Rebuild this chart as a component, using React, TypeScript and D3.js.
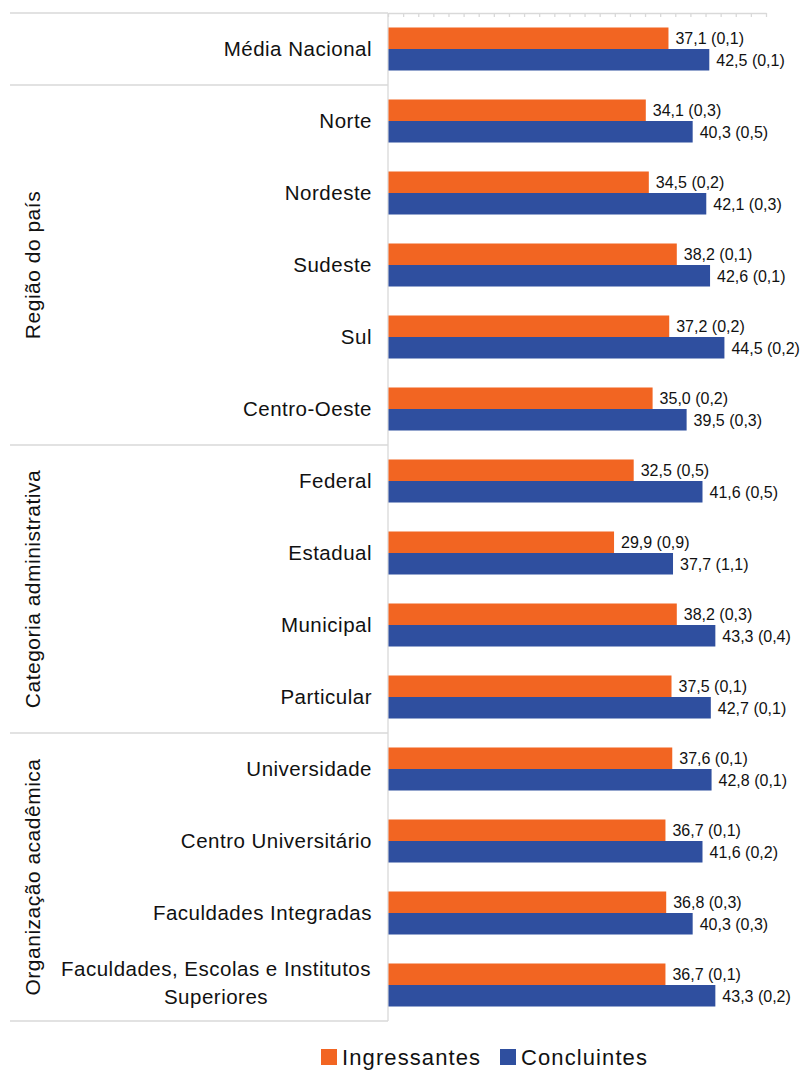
import { useEffect, useRef } from 'react';
import * as d3 from 'd3';

const categories = [
  'Média Nacional',
  'Norte',
  'Nordeste',
  'Sudeste',
  'Sul',
  'Centro-Oeste',
  'Federal',
  'Estadual',
  'Municipal',
  'Particular',
  'Universidade',
  'Centro Universitário',
  'Faculdades Integradas',
  'Faculdades, Escolas e Institutos|Superiores',
];

const ingressantes = [37.1, 34.1, 34.5, 38.2, 37.2, 35.0, 32.5, 29.9, 38.2, 37.5, 37.6, 36.7, 36.8, 36.7];
const concluintes = [42.5, 40.3, 42.1, 42.6, 44.5, 39.5, 41.6, 37.7, 43.3, 42.7, 42.8, 41.6, 40.3, 43.3];
const ingressantesErr = ['0,1', '0,3', '0,2', '0,1', '0,2', '0,2', '0,5', '0,9', '0,3', '0,1', '0,1', '0,1', '0,3', '0,1'];
const concluintesErr = ['0,1', '0,5', '0,3', '0,1', '0,2', '0,3', '0,5', '1,1', '0,4', '0,1', '0,1', '0,2', '0,3', '0,2'];

// groups: [label, first category index, last category index]
const groups: [string, number, number][] = [
  ['Região do país', 1, 5],
  ['Categoria administrativa', 6, 9],
  ['Organização acadêmica', 10, 13],
];

const seriesNames = ['Ingressantes', 'Concluintes'];
const colors = ['#F26522', '#2F4F9F'];

const fmt = (v: number) => v.toFixed(1).replace('.', ',');

export default function App() {
  const svgRef = useRef<SVGSVGElement>(null);

  useEffect(() => {
    if (!svgRef.current) return;
    const width = 804;
    const height = 1072;
    const font = '"Liberation Sans", Arial, sans-serif';
    const textColor = '#111';
    const gridColor = '#d9d9d9';

    const svg = d3.select(svgRef.current).attr('width', width).attr('height', height);
    svg.selectAll('*').remove();

    const x = d3.scaleLinear().domain([0, 50]).range([388, 766]);
    const y = d3.scaleBand<string>().domain(categories).range([13, 1021]).padding(0);
    const ySub = d3.scaleBand<string>()
      .domain(seriesNames)
      .range([0, y.bandwidth()])
      .paddingInner(0)
      .paddingOuter(0.674);

    // Group boundary lines on the category side
    const boundaries = [0, 1, 6, 10].map(i => y(categories[i])!).concat([y.range()[1]]);
    svg.append('g')
      .selectAll('line')
      .data(boundaries)
      .join('line')
      .attr('x1', 10)
      .attr('x2', x(0))
      .attr('y1', d => d)
      .attr('y2', d => d)
      .attr('stroke', gridColor)
      .attr('stroke-width', 1.3);

    // Top value axis with tiny ticks
    const axis = svg.append('g')
      .attr('transform', `translate(0,${y.range()[0]})`)
      .call(d3.axisTop(x).tickValues(d3.range(0, 51, 2)).tickSizeInner(-4).tickSizeOuter(0).tickFormat(() => ''));
    axis.select('.domain').attr('stroke', gridColor).attr('stroke-width', 1.3);
    axis.selectAll('.tick line').attr('stroke', gridColor).attr('stroke-width', 1.3);

    // Vertical category axis line
    svg.append('line')
      .attr('x1', x(0))
      .attr('x2', x(0))
      .attr('y1', y.range()[0])
      .attr('y2', y.range()[1])
      .attr('stroke', gridColor)
      .attr('stroke-width', 1.3);

    // Bars
    const rows = categories.map((c, i) => ({
      c,
      vals: [
        { s: seriesNames[0], v: ingressantes[i], e: ingressantesErr[i] },
        { s: seriesNames[1], v: concluintes[i], e: concluintesErr[i] },
      ],
    }));

    const rowG = svg.append('g')
      .selectAll('g')
      .data(rows)
      .join('g')
      .attr('transform', d => `translate(0,${y(d.c)})`);

    rowG.selectAll('rect')
      .data(d => d.vals)
      .join('rect')
      .attr('x', x(0) + 0.5)
      .attr('y', d => ySub(d.s)!)
      .attr('width', d => x(d.v) - x(0) - 0.5)
      .attr('height', ySub.bandwidth())
      .attr('fill', (_, i) => colors[i]);

    rowG.selectAll('text.val')
      .data(d => d.vals)
      .join('text')
      .attr('class', 'val')
      .attr('x', d => x(d.v) + 7)
      .attr('y', d => ySub(d.s)! + ySub.bandwidth() / 2)
      .attr('dy', '0.36em')
      .style('font-family', font)
      .style('font-size', '16px')
      .style('fill', textColor)
      .text(d => `${fmt(d.v)} (${d.e})`);

    // Category labels
    rowG.each(function (d) {
      const lines = d.c.split('|');
      const g = d3.select(this);
      const cy = y.bandwidth() / 2;
      if (lines.length === 1) {
        g.append('text')
          .attr('x', 372)
          .attr('y', cy)
          .attr('dy', '0.36em')
          .attr('text-anchor', 'end')
          .style('font-family', font)
          .style('font-size', '20.5px')
          .style('letter-spacing', '0.5px')
          .style('fill', textColor)
          .text(lines[0]);
      } else {
        const t = g.append('text')
          .attr('text-anchor', 'middle')
          .style('font-family', font)
          .style('font-size', '20.5px')
          .style('letter-spacing', '0.5px')
          .style('fill', textColor);
        lines.forEach((l, k) => {
          t.append('tspan')
            .attr('x', 216)
            .attr('y', cy - 14 + k * 28 - 2)
            .attr('dy', '0.36em')
            .text(l);
        });
      }
    });

    // Group labels (rotated)
    svg.append('g')
      .selectAll('text')
      .data(groups)
      .join('text')
      .attr('transform', d => {
        const cy = (y(categories[d[1]])! + y(categories[d[2]])! + y.bandwidth()) / 2;
        return `translate(32,${cy}) rotate(-90)`;
      })
      .attr('text-anchor', 'middle')
      .attr('dy', '0.36em')
      .style('font-family', font)
      .style('font-size', '21px')
      .style('letter-spacing', '0.5px')
      .style('fill', textColor)
      .text(d => d[0]);

    // Legend
    const legendX = [321, 500];
    const leg = svg.append('g')
      .selectAll('g')
      .data(seriesNames)
      .join('g')
      .attr('transform', (_, i) => `translate(${legendX[i]},1049)`);
    leg.append('rect')
      .attr('width', 16)
      .attr('height', 16)
      .attr('fill', (_, i) => colors[i]);
    leg.append('text')
      .attr('x', 21)
      .attr('y', 8)
      .attr('dy', '0.36em')
      .style('font-family', font)
      .style('font-size', '22px')
      .style('letter-spacing', '1.1px')
      .style('fill', textColor)
      .text(d => d);
  }, []);

  return (
    <div style={{ position: 'absolute', left: 0, top: 0, width: 804, height: 1072, background: '#fff', overflow: 'hidden' }}>
      <svg ref={svgRef} style={{ display: 'block' }} />
    </div>
  );
}
